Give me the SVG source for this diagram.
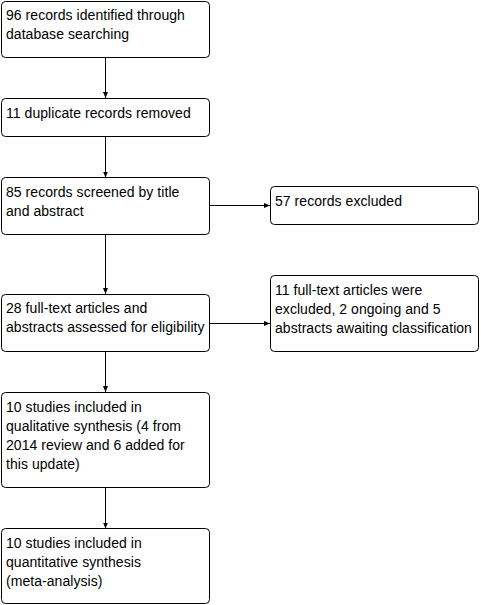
<svg xmlns="http://www.w3.org/2000/svg" width="481" height="605" viewBox="0 0 481 605">
<defs>
<style>
.box{fill:#fff;stroke:#000;stroke-width:1}
.t{font-family:"Liberation Sans",Arial,sans-serif;font-size:14px;letter-spacing:0.05px;fill:#000}
.c{stroke:#000;stroke-width:1;fill:none;marker-end:url(#ah)}
</style>
<marker id="ah" markerWidth="6" markerHeight="6" refX="6" refY="3" orient="auto" markerUnits="userSpaceOnUse">
<path d="M0,0.5 L6,3 L0,5.5 Z" fill="#000"/>
</marker>
</defs>
<rect width="481" height="605" fill="#fff"/>
<g id="connectors">
<line class="c" x1="105.5" y1="57" x2="105.5" y2="98"/>
<line class="c" x1="105.5" y1="136" x2="105.5" y2="177.5"/>
<line class="c" x1="105.5" y1="234" x2="105.5" y2="294"/>
<line class="c" x1="105.5" y1="351" x2="105.5" y2="392"/>
<line class="c" x1="105.5" y1="487" x2="105.5" y2="528.5"/>
<line class="c" x1="209" y1="205.5" x2="270" y2="205.5"/>
<line class="c" x1="209" y1="323.5" x2="270" y2="323.5"/>
</g>
<g id="n1"><rect class="box" x="1.5" y="1.5" width="208" height="56" rx="4"/>
<text class="t" x="6" y="20">96 records identified through</text><text class="t" x="6" y="39">database searching</text></g>
<g id="n2"><rect class="box" x="1.5" y="98.5" width="208" height="38" rx="4"/>
<text class="t" x="6" y="118">11 duplicate records removed</text></g>
<g id="n3"><rect class="box" x="1.5" y="177.5" width="208" height="57" rx="4"/>
<text class="t" x="6" y="197">85 records screened by title</text><text class="t" x="6" y="216">and abstract</text></g>
<g id="n4"><rect class="box" x="1.5" y="294.5" width="208" height="57" rx="4"/>
<text class="t" x="6" y="313">28 full-text articles and</text><text class="t" x="6" y="332">abstracts assessed for eligibility</text></g>
<g id="n5"><rect class="box" x="1.5" y="392.5" width="208" height="95" rx="4"/>
<text class="t" x="6" y="412">10 studies included in</text><text class="t" x="6" y="431">qualitative synthesis (4 from</text><text class="t" x="6" y="450">2014 review and 6 added for</text><text class="t" x="6" y="469">this update)</text></g>
<g id="n6"><rect class="box" x="1.5" y="528.5" width="208" height="75" rx="4"/>
<text class="t" x="6" y="548">10 studies included in</text><text class="t" x="6" y="567">quantitative synthesis</text><text class="t" x="6" y="586">(meta-analysis)</text></g>
<g id="n7"><rect class="box" x="270.5" y="186.5" width="208" height="38" rx="4"/>
<text class="t" x="275" y="206">57 records excluded</text></g>
<g id="n8"><rect class="box" x="270.5" y="275.5" width="208" height="76" rx="4"/>
<text class="t" x="275" y="295">11 full-text articles were</text><text class="t" x="275" y="314">excluded, 2 ongoing and 5</text><text class="t" x="275" y="333">abstracts awaiting classification</text></g>
</svg>
